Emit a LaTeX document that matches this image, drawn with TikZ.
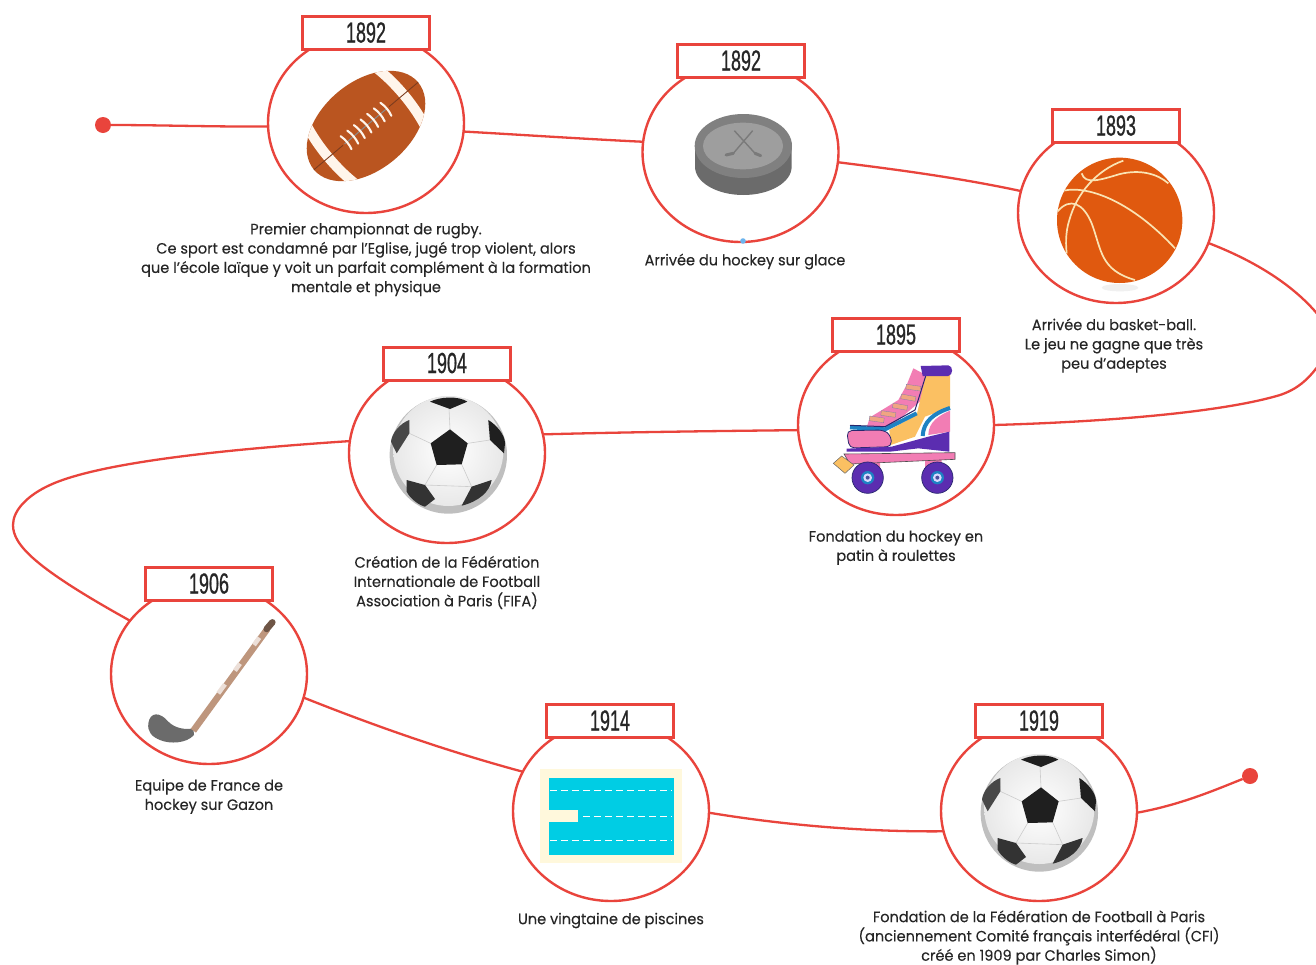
\documentclass[tikz,border=0pt]{standalone}
\usepackage{fontspec}
\usetikzlibrary{shapes.geometric}
\setmainfont[FakeStretch=0.97,FakeBold=0.15]{Poppins}
\newfontfamily\yearfont[FakeStretch=0.62,FakeBold=0.7]{Liberation Sans}
\definecolor{tlred}{HTML}{E9443C}
\definecolor{tltext}{HTML}{262626}
\definecolor{rugbybrown}{RGB}{186,85,32}
\definecolor{rugbydark}{RGB}{125,60,30}
\definecolor{rugbycream}{RGB}{255,245,235}
\definecolor{puckblue}{RGB}{108,180,238}
\definecolor{baskorange}{RGB}{224,89,15}
\definecolor{baskline}{RGB}{250,228,180}
\definecolor{skpink}{RGB}{242,125,180}
\definecolor{skyellow}{RGB}{251,192,98}
\definecolor{skblue}{RGB}{30,130,195}
\definecolor{skpurple}{RGB}{91,45,176}
\definecolor{sknavy}{RGB}{40,40,110}
\definecolor{sklace}{RGB}{240,165,130}
\definecolor{stickbrown}{RGB}{190,150,125}
\definecolor{stickdark}{RGB}{110,85,70}
\definecolor{poolcream}{RGB}{255,248,220}
\definecolor{poolblue}{RGB}{0,205,228}
\tikzset{
  stop/.style={ellipse,draw=tlred,line width=2.4pt,fill=white,minimum width=196pt,minimum height=180pt,inner sep=0pt,outer sep=0pt},
  yearbox/.style={rectangle,draw=tlred,line width=3pt,fill=white,minimum width=127pt,minimum height=33pt,inner sep=0pt,outer sep=0pt,text=tltext,text height=21pt,text depth=2pt,font=\yearfont\fontsize{29}{30}\selectfont},
  caption/.style={align=center,inner sep=0pt,text=tltext,font=\fontsize{15}{19.3}\selectfont},
  conn/.style={draw=tlred,line width=2.3pt},
  dotend/.style={circle,fill=tlred,minimum size=16pt,inner sep=0pt,outer sep=0pt},
  icon/.style={shift={#1},scale=0.33333}
}
\newcommand{\soccerball}{%
  \fill[gray!50] (295,330) circle (176);
  \shade[inner color=white,outer color=gray!18] (295,318) circle (165);
  \draw[gray!40,line width=.6pt] (300,253)--(297,190) (353,295)--(420,285) (335,358)--(365,425) (260,360)--(225,420) (242,295)--(178,265)
     (225,420)--(365,425) (178,265)--(175,225) (420,285)--(415,225);
  \fill[black!88] (300,253)--(353,295)--(335,358)--(260,360)--(242,295)--cycle;
  \fill[black!88] (240,170) .. controls (270,155) and (325,152) .. (352,170) -- (300,192) -- cycle;
  \fill[black!72] (178,225)--(178,265)--(140,325)--(123,290) .. controls (125,265) and (150,235) .. (178,225) -- cycle;
  \fill[black!88] (415,225) .. controls (440,240) and (465,270) .. (465,295) -- (462,325) -- (420,285) -- cycle;
  \fill[black!80] (170,405)--(225,420)--(255,462)--(225,485) .. controls (205,480) and (180,460) .. (170,440) -- cycle;
  \fill[black!80] (365,425)--(425,405) .. controls (420,440) and (385,470) .. (335,482) -- cycle;
}
\begin{document}
\begin{tikzpicture}[x=1pt,y=-1pt]
\useasboundingbox (0,0) rectangle (1316,964);
\fill[white] (0,0) rectangle (1316,964);

% stops
\node[stop] (c1) at (366,123) {};
\node[stop] (c2) at (740.5,152) {};
\node[stop] (c3) at (1116,213) {};
\node[stop] (c4) at (896,425) {};
\node[stop] (c5) at (447,453) {};
\node[stop] (c6) at (209,674) {};
\node[stop] (c7) at (611,811) {};
\node[stop] (c8) at (1039,811) {};
\node[dotend] (startdot) at (103,125) {};
\node[dotend] (enddot) at (1250,776) {};

% connector way points
\coordinate (r1) at (1316.5,313);
\coordinate (r2) at (1316.5,368);
\coordinate (l1) at (13,525);

% connectors
\draw[conn] (startdot) .. controls (160,125) and (220,127) .. (c1.182.3);
\draw[conn] (c1.-5.2) .. controls (525,135) and (585,139) .. (c2.174.7);
\draw[conn] (c2.-6.4) .. controls (900,170) and (960,178) .. (c3.167.7);
\draw[conn] (c3.-18) .. controls (1250,259) and (1290,282) .. (r1)
   .. controls (1328,325) and (1332,352) .. (r2)
   .. controls (1308,379) and (1298,389) .. (1280,395)
   .. controls (1220,413) and (1100,422) .. (c4.0);
\draw[conn] (c4.183) .. controls (720,431) and (630,432) .. (c5.11.6);
\draw[conn] (c5.173.6) .. controls (230,449) and (100,462) .. (50,485)
   .. controls (28,495) and (13,510) .. (l1)
   .. controls (13,545) and (35,568) .. (c6.146);
\draw[conn] (c6.-14.3) .. controls (380,728) and (450,752) .. (c7.156);
\draw[conn] (c7.-1.8) .. controls (790,826) and (870,832) .. (c8.192.2);
\draw[conn] (c8.-1.2) .. controls (1180,805) and (1215,790) .. (enddot);

% rugby ball
\begin{scope}[shift={(366,126)},rotate=40]
  \clip (0,0) ellipse [x radius=68,y radius=44];
  \fill[rugbybrown] (-72,-46) rectangle (72,46);
  \fill[rugbycream] (38,-46) .. controls (46,-20) and (46,20) .. (38,46) -- (48,46) .. controls (56,20) and (56,-20) .. (48,-46) -- cycle;
  \fill[rugbycream] (-38,-46) .. controls (-46,-20) and (-46,20) .. (-38,46) -- (-48,46) .. controls (-56,20) and (-56,-20) .. (-48,-46) -- cycle;
  \draw[rugbydark,line width=.9pt] (-71,0)--(-30,0) (30,0)--(71,0);
  \draw[black!45,line width=1pt] (-28,0)--(28,0);
  \foreach \lx in {-26,-17.3,-8.7,0,8.7,17.3,26}
    \draw[rugbycream,line width=2.1pt,line cap=round] (\lx,-8.5) .. controls (\lx+1.5,-3) and (\lx+1.5,3) .. (\lx,8.5);
\end{scope}

% puck
\begin{scope}[icon={(640,40)}]
  \fill[black!58] (165,320) -- (165,380) arc [start angle=180,end angle=0,x radius=145,y radius=85] -- (455,320) -- cycle;
  \fill[black!50] (310,318) ellipse [x radius=146,y radius=96];
  \fill[black!38] (309,318) ellipse [x radius=120,y radius=70];
  \draw[black!52,line width=1.4pt] (283,272) -- (345,340) (338,272) -- (280,340);
  \draw[black!52,line width=3pt,line cap=round] (345,340) -- (362,347) (280,340) -- (258,345);
\end{scope}
\fill[puckblue] (743,241) circle (2.8);

% basketball
\begin{scope}[icon={(1020,110)}]
  \fill[black!6] (300,533) ellipse [x radius=55,y radius=11];
  \fill[baskorange] (299,331) circle (188);
  \begin{scope}
    \clip (299,331) circle (188);
    \draw[baskline,line width=1.7pt]
      (310,152) .. controls (230,180) and (170,250) .. (148,330) .. controls (135,370) and (138,410) .. (140,430)
      (185,190) .. controls (195,225) and (240,210) .. (300,192) .. controls (360,178) and (410,190) .. (445,220)
      (130,242) .. controls (210,225) and (340,280) .. (465,415)
      (112,305) .. controls (150,260) and (190,280) .. (215,340) .. controls (245,420) and (240,480) .. (345,510);
  \end{scope}
\end{scope}

% roller skate
\begin{scope}[icon={(800,320)}]
  \fill[skpink] (340,145) -- (378,165) -- (365,240) -- (275,318) -- (200,322) -- (210,292) -- (295,240) -- (320,195) -- cycle;
  \fill[skyellow] (378,165) -- (450,165) -- (450,262) -- (375,290) -- (345,350) -- (272,375) -- (268,330) -- (350,285) -- cycle;
  \fill[skpink] (385,345) .. controls (385,305) and (420,285) .. (450,272) -- (450,335) -- cycle;
  \draw[skblue,line width=4pt] (150,322) -- (255,328) -- (350,280) (368,348) .. controls (370,305) and (400,280) .. (450,264);
  \draw[sknavy,line width=1pt] (150,316) -- (255,320) -- (345,270) -- (378,165);
  \fill[skpurple] (362,138) -- (445,136) .. controls (460,138) and (460,165) .. (445,168) -- (368,168) -- cycle;
  \filldraw[fill=skpink,draw=sknavy,line width=.8pt,rounded corners=5pt] (140,332) -- (250,330) -- (272,345) -- (275,380) -- (148,384) -- cycle;
  \fill[skpurple] (140,386) -- (275,380) -- (385,350) -- (448,335) -- (448,395) -- (355,385) -- (270,395) -- (140,395) -- cycle;
  \foreach \lx/\ly/\la in {340/203/-8,325/233/-10,300/260/-10,265/282/-8,230/298/-8}
    \filldraw[fill=sklace,draw=sknavy!60,line width=.3pt,rotate around={\la:(\lx,\ly)}] (\lx-22,\ly-7) rectangle (\lx+22,\ly+7);
  \fill[skpink] (190,425) rectangle (240,445) (375,420) rectangle (425,445);
  \filldraw[fill=skpink,draw=black!70,line width=.6pt] (132,402) -- (465,398) -- (465,418) -- (150,432) -- cycle;
  \filldraw[fill=skyellow,draw=black!60,line width=.5pt] (100,430) -- (125,408) -- (162,435) -- (135,460) -- cycle;
  \foreach \wx in {203,412}{
    \filldraw[fill=skpurple,draw=sknavy,line width=.7pt] (\wx,473) circle (47);
    \fill[skblue] (\wx,473) circle (20);
    \fill[white!85!blue] (\wx,473) circle (13);
    \fill[black!55!blue!70] (\wx,473) circle (6);
  }
\end{scope}

% soccer balls
\begin{scope}[icon={(350,345)}]\soccerball\end{scope}
\begin{scope}[icon={(941,703)}]\soccerball\end{scope}

% hockey stick
\begin{scope}[icon={(110,565)}]
  \fill[black!58] (115,475) .. controls (120,440) and (150,440) .. (175,470) .. controls (195,490) and (225,495) .. (250,490) -- (252,510) .. controls (230,535) and (180,538) .. (150,525) .. controls (125,515) and (112,500) .. (115,475) -- cycle;
  \draw[stickbrown,line width=6.5pt] (250,497) -- (472,192);
  \draw[white!70!stickbrown,line width=4.5pt] (325,385) -- (345,358) (375,317) -- (390,296) (432,240) -- (448,218);
  \draw[stickdark,line width=6.5pt,line cap=round] (470,192) -- (487,172);
\end{scope}

% pool
\begin{scope}[icon={(515,700)}]
  \fill[poolcream] (75,207) rectangle (500,490);
  \fill[poolblue] (102,233) rectangle (476,464);
  \fill[poolcream] (75,330) rectangle (188,366);
  \draw[white,line width=1.3pt,dash pattern=on 7pt off 4pt] (105,271) -- (470,271) (205,350) -- (470,350) (105,421) -- (470,421);
\end{scope}

% year boxes
\node[yearbox] (y1) at (366,33) {1892};
\node[yearbox] (y2) at (741,61) {1892};
\node[yearbox] (y3) at (1116,126) {1893};
\node[yearbox] (y4) at (896,335) {1895};
\node[yearbox] (y5) at (447,363.5) {1904};
\node[yearbox] (y6) at (209,584) {1906};
\node[yearbox] (y7) at (610,721) {1914};
\node[yearbox] (y8) at (1039,721) {1919};

% captions
\node[caption] (t1) at (366,259.5) {Premier championnat de rugby.\\Ce sport est condamné par l’Eglise, jugé trop violent, alors\\que l’école laïque y voit un parfait complément à la formation\\mentale et physique};
\node[caption] (t2) at (745,261.5) {Arrivée du hockey sur glace};
\node[caption] (t3) at (1114,345.5) {Arrivée du basket-ball.\\Le jeu ne gagne que très\\peu d’adeptes};
\node[caption] (t4) at (896,547.5) {Fondation du hockey en\\patin à roulettes};
\node[caption] (t5) at (447,582.5) {Création de la Fédération\\Internationale de Football\\Association à Paris (FIFA)};
\node[caption] (t6) at (209,796.5) {Equipe de France de\\hockey sur Gazon};
\node[caption] (t7) at (611,920.5) {Une vingtaine de piscines};
\node[caption] (t8) at (1039,937.5) {Fondation de la Fédération de Football à Paris\\(anciennement Comité français interfédéral (CFI)\\créé en 1909 par Charles Simon)};
\end{tikzpicture}
\end{document}
